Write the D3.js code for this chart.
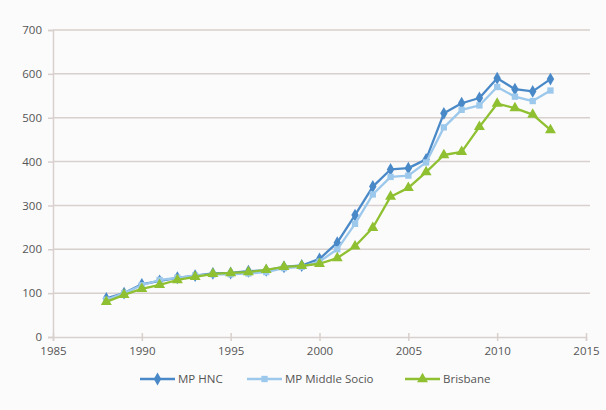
<!DOCTYPE html>
<html>
<head>
<meta charset="utf-8">
<script src="https://cdn.jsdelivr.net/npm/d3@7"></script>
<style>
  html, body { margin: 0; padding: 0; background: #ffffff; }
  svg { display: block; }
  text { font-family: "Open Sans", "Liberation Sans", sans-serif; }
</style>
</head>
<body>
<svg id="chart" width="606" height="410"></svg>
<script>
// Index values by year
const years = d3.range(1988, 2014);
const mpHNC = [88, 100, 120, 128, 135, 140, 145, 146, 150, 152, 160, 163, 178,
               215, 278, 343, 382, 385, 405, 510, 533, 545, 590, 565, 560, 588];
const mpMiddleSocio = [85, 100, 118, 130, 135, 140, 143, 143, 145, 148, 157, 160, 172,
                       200, 258, 325, 365, 368, 398, 478, 518, 528, 570, 548, 538, 562];
const brisbane = [80, 96, 110, 119, 130, 137, 144, 146, 148, 153, 160, 162, 167,
                  180, 207, 249, 320, 340, 376, 415, 422, 479, 532, 522, 507, 472];

const xTicks = [1985, 1990, 1995, 2000, 2005, 2010, 2015];
const yTicks = [0, 100, 200, 300, 400, 500, 600, 700];

const seriesNames = ["MP HNC", "MP Middle Socio", "Brisbane"];
const seriesValues = [mpHNC, mpMiddleSocio, brisbane];
const seriesColors = ["#4a89c8", "#9cc8ec", "#8fc031"];
const seriesSymbols = [d3.symbolDiamond, d3.symbolSquare, d3.symbolTriangle];
const symbolSizes = [48, 40, 52];

const svg = d3.select("#chart");

svg.append("rect").attr("width", 606).attr("height", 410).attr("fill", "#fbfbfb");

const x = d3.scaleLinear().domain([1985, 2015]).range([53, 586]);
const y = d3.scaleLinear().domain([0, 700]).range([337, 30]);

const gridColor = "#d8d0cd";

// horizontal gridlines
svg.append("g")
  .selectAll("line")
  .data(yTicks.filter(d => d > 0))
  .join("line")
  .attr("x1", x(1985)).attr("x2", 590)
  .attr("y1", d => y(d)).attr("y2", d => y(d))
  .attr("stroke", gridColor).attr("stroke-width", 1.5);

// y axis
const yAxis = svg.append("g")
  .attr("transform", `translate(${x(1985)},0)`)
  .call(d3.axisLeft(y).tickValues(yTicks).tickSize(5).tickPadding(6));
yAxis.select(".domain").attr("stroke", gridColor).attr("stroke-width", 1.5);
yAxis.selectAll(".tick line").attr("stroke", gridColor).attr("stroke-width", 1.5);
yAxis.selectAll(".tick text")
  .attr("fill", "#555").attr("font-size", 11.5)
  .attr("font-family", "'Open Sans', 'Liberation Sans', sans-serif");

// x axis
const xAxis = svg.append("g")
  .attr("transform", `translate(0,${y(0)})`)
  .call(d3.axisBottom(x).tickValues(xTicks).tickFormat(d3.format("d")).tickSize(4).tickPadding(6));
xAxis.select(".domain").attr("stroke", gridColor).attr("stroke-width", 1.5);
xAxis.selectAll(".tick line").attr("y1", -4).attr("stroke", gridColor).attr("stroke-width", 1.5);
xAxis.selectAll(".tick text")
  .attr("fill", "#555").attr("font-size", 11.5)
  .attr("font-family", "'Open Sans', 'Liberation Sans', sans-serif");

// series lines and markers
const line = d3.line().x(d => x(d.year)).y(d => y(d.value));

seriesValues.forEach((vals, i) => {
  const data = years.map((yr, j) => ({ year: yr, value: vals[j] }));
  const g = svg.append("g");
  g.append("path")
    .datum(data)
    .attr("d", line)
    .attr("fill", "none")
    .attr("stroke", seriesColors[i])
    .attr("stroke-width", 2.3)
    .attr("stroke-linejoin", "round");
  g.selectAll("path.marker")
    .data(data)
    .join("path")
    .attr("class", "marker")
    .attr("d", d3.symbol().type(seriesSymbols[i]).size(symbolSizes[i]))
    .attr("transform", d => `translate(${x(d.year)},${y(d.value)})`)
    .attr("fill", seriesColors[i]);
});

// legend
const legendX = [140, 247, 405];
const legend = svg.append("g").attr("transform", "translate(0,379)");
seriesNames.forEach((name, i) => {
  const lg = legend.append("g").attr("transform", `translate(${legendX[i]},0)`);
  lg.append("line").attr("x1", 0).attr("x2", 35).attr("y1", 0).attr("y2", 0)
    .attr("stroke", seriesColors[i]).attr("stroke-width", 2.3);
  lg.append("path")
    .attr("d", d3.symbol().type(seriesSymbols[i]).size(symbolSizes[i]))
    .attr("transform", "translate(17.5,0)")
    .attr("fill", seriesColors[i]);
  lg.append("text").attr("x", 38).attr("y", 4)
    .attr("font-size", 11.5).attr("fill", "#555")
    .text(name);
});
</script>
</body>
</html>
